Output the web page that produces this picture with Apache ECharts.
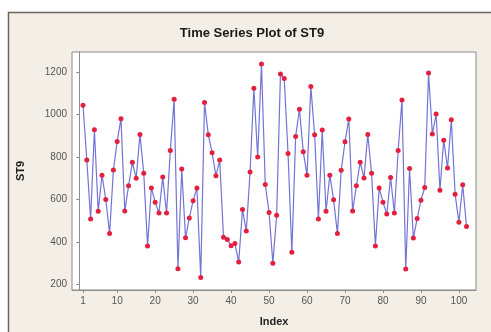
<!DOCTYPE html>
<html>
<head>
<meta charset="utf-8">
<script src="https://cdn.jsdelivr.net/npm/echarts@6/dist/echarts.min.js"></script>
<style>
html,body{margin:0;padding:0;background:#fff;}
#chart{width:491px;height:332px;}
</style>
</head>
<body>
<div id="chart"></div>
<script>
const titleText = "Time Series Plot of ST9";
const xName = "Index";
const yName = "ST9";
const xTicks = [1, 10, 20, 30, 40, 50, 60, 70, 80, 90, 100];
const yTicks = [200, 400, 600, 800, 1000, 1200];
const st9 = [
  1043, 786, 508, 928, 544, 714, 600, 439, 738, 873,
  980, 545, 664, 775, 700, 906, 723, 381, 654, 587,
  536, 705, 536, 830, 1071, 274, 743, 419, 513, 594,
  654, 232, 1056, 904, 820, 711, 785, 422, 411, 382,
  393, 305, 552, 451, 729, 1123, 800, 1237, 670, 539,
  300, 525, 1191, 1169, 816, 351, 896, 1025, 825, 714,
  1132, 905, 508, 927, 544, 714, 598, 439, 737, 871,
  979, 545, 664, 775, 701, 906, 723, 381, 654, 587,
  531, 703, 536, 830, 1068, 272, 746, 418, 510, 596,
  656, 1195, 908, 1002, 643, 879, 748, 975, 624, 493,
  669, 473
];

const seriesData = st9.map((v, i) => [i + 1, v]);
const chart = echarts.init(document.getElementById('chart'), null, {renderer: 'canvas'});
const FONT = "'Liberation Sans', Arial, sans-serif";

chart.setOption({
  animation: false,
  backgroundColor: '#ffffff',
  graphic: [
    {type: 'rect', z: -10, silent: true,
     shape: {x: 8.5, y: 12.5, width: 500, height: 340},
     style: {fill: '#f3efe6', stroke: '#6e665a', lineWidth: 1.5}},
    {type: 'text', z: 10, silent: true, x: 252, y: 33,
     style: {text: titleText, textAlign: 'center', textVerticalAlign: 'middle',
             font: "bold 13px 'Liberation Sans', Arial, sans-serif", fill: '#1a1a1a'}}
  ],
  grid: {
    left: 72, top: 52, width: 404, height: 242,
    show: true, backgroundColor: '#ffffff', borderColor: '#8c8c8c', borderWidth: 1
  },
  xAxis: {
    type: 'value', min: -1.9, max: 104.5,
    name: xName, nameLocation: 'middle', nameGap: 26,
    nameTextStyle: {fontFamily: FONT, fontWeight: 'bold', fontSize: 11, color: '#222'},
    axisLine: {show: true, lineStyle: {color: '#8c8c8c', width: 1}},
    axisTick: {show: true, length: 3, inside: false, customValues: xTicks, lineStyle: {color: '#8c8c8c'}},
    axisLabel: {customValues: xTicks, margin: 6, fontFamily: FONT, fontSize: 10, color: '#555',
                formatter: v => String(v)},
    splitLine: {show: false}
  },
  yAxis: {
    type: 'value', min: 173.6, max: 1294,
    name: yName, nameLocation: 'middle', nameGap: 46,
    nameTextStyle: {fontFamily: FONT, fontWeight: 'bold', fontSize: 11, color: '#222'},
    axisLine: {show: true, lineStyle: {color: '#8c8c8c', width: 1}},
    axisTick: {show: true, length: 3, inside: false, customValues: yTicks, lineStyle: {color: '#8c8c8c'}},
    axisLabel: {customValues: yTicks, margin: 5, fontFamily: FONT, fontSize: 10, color: '#555',
                formatter: v => String(v)},
    splitLine: {show: false}
  },
  series: [{
    type: 'line',
    data: seriesData,
    symbol: 'circle',
    symbolSize: 5,
    showAllSymbol: true,
    lineStyle: {color: '#7474d6', width: 1.2},
    itemStyle: {color: '#e3203f'},
    z: 3
  }]
});
</script>
</body>
</html>
